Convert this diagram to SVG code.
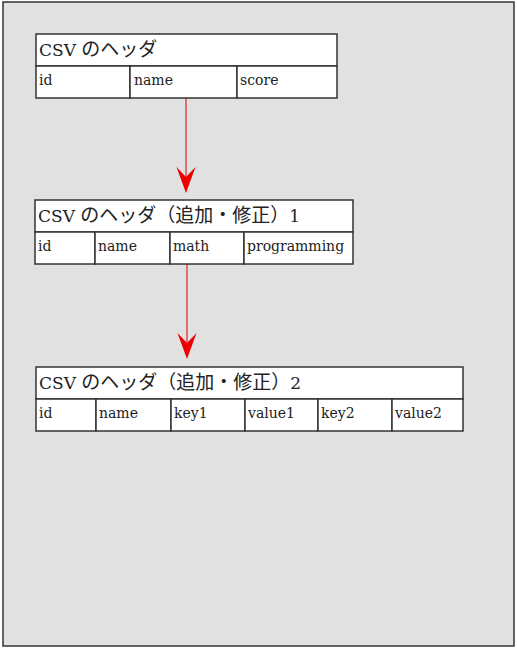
<svg xmlns="http://www.w3.org/2000/svg" width="517" height="651" viewBox="0 0 517 651">
<style>
.frame{fill:#e1e1e1;stroke:#333;stroke-width:1.5}
.cell{fill:#fff;stroke:#333;stroke-width:1.5}
.h{font-family:"DejaVu Serif","Noto Sans CJK JP",serif;font-size:17px;fill:#222}
.j{font-family:"Noto Sans CJK JP",sans-serif;font-size:19px}
.t{font-family:"DejaVu Serif","Noto Sans CJK JP",serif;font-size:14px;fill:#222}
.edge{stroke:#d00;stroke-width:1;fill:none}
.head{fill:#e00}
</style>
<rect class="frame" x="3" y="2" width="511" height="644"/>
<g id="connectors">
<line class="edge" x1="186" y1="98" x2="186" y2="188"/>
<path class="head" d="M176.5,167 L186,177 L195.5,167 L186,193 Z"/>
<line class="edge" x1="187" y1="264" x2="187" y2="354"/>
<path class="head" d="M177.5,333 L187,343 L196.5,333 L187,359 Z"/>
</g>
<g id="node1">
<rect class="cell" x="36" y="34" width="301" height="32"/>
<rect class="cell" x="36" y="66" width="94" height="32"/>
<rect class="cell" x="130" y="66" width="107" height="32"/>
<rect class="cell" x="237" y="66" width="100" height="32"/>
<text class="h" x="39" y="56">CSV <tspan class="j">のヘッダ</tspan></text>
<text class="t" x="39" y="85">id</text>
<text class="t" x="134" y="85">name</text>
<text class="t" x="240" y="85">score</text>
</g>
<g id="node2">
<rect class="cell" x="35" y="200" width="318" height="32"/>
<rect class="cell" x="35" y="232" width="60" height="32"/>
<rect class="cell" x="95" y="232" width="75" height="32"/>
<rect class="cell" x="170" y="232" width="74" height="32"/>
<rect class="cell" x="244" y="232" width="109" height="32"/>
<text class="h" x="38" y="222">CSV <tspan class="j">のヘッダ（追加・修正）</tspan>1</text>
<text class="t" x="38" y="251">id</text>
<text class="t" x="98" y="251">name</text>
<text class="t" x="173" y="251">math</text>
<text class="t" x="247" y="251">programming</text>
</g>
<g id="node3">
<rect class="cell" x="36" y="367" width="427" height="32"/>
<rect class="cell" x="36" y="399" width="60" height="32"/>
<rect class="cell" x="96" y="399" width="75" height="32"/>
<rect class="cell" x="171" y="399" width="74" height="32"/>
<rect class="cell" x="245" y="399" width="73" height="32"/>
<rect class="cell" x="318" y="399" width="74" height="32"/>
<rect class="cell" x="392" y="399" width="71" height="32"/>
<text class="h" x="39" y="389">CSV <tspan class="j">のヘッダ（追加・修正）</tspan>2</text>
<text class="t" x="39" y="418">id</text>
<text class="t" x="99" y="418">name</text>
<text class="t" x="174" y="418">key1</text>
<text class="t" x="248" y="418">value1</text>
<text class="t" x="321" y="418">key2</text>
<text class="t" x="395" y="418">value2</text>
</g>
</svg>
